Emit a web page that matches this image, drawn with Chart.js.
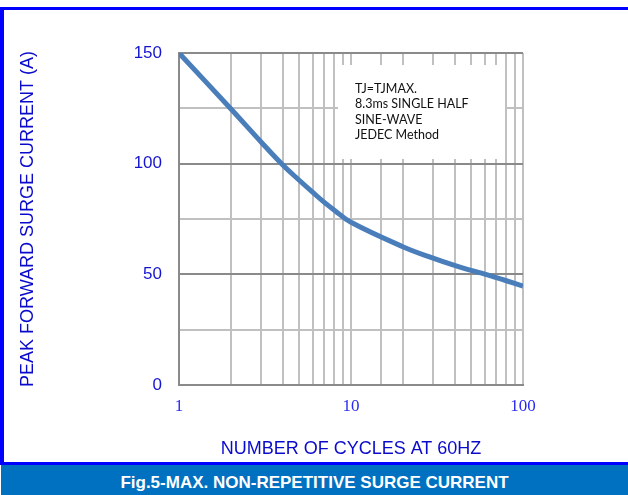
<!DOCTYPE html>
<html>
<head>
<meta charset="utf-8">
<script src="https://cdn.jsdelivr.net/npm/chart.js@4/dist/chart.umd.min.js"></script>
<style>
    html, body { margin: 0; padding: 0; background: #fff; }
    #wrap { position: relative; width: 628px; height: 495px; overflow: hidden; }
    #frame {
        position: absolute; left: 0; top: 7px; width: 628px; height: 458px;
        box-sizing: border-box;
        border-top: 3px solid #0000ff;
        border-left: 4px solid #0000ff;
        border-bottom: 3px solid #0000ff;
    }
    #surge { position: absolute; left: 0; top: 0; }
    #caption {
        position: absolute; left: 1px; top: 465px; width: 627px; height: 30px;
        background: #0070c0; color: #fff;
        font: bold 17px "Liberation Sans", Arial, sans-serif;
        text-align: center; line-height: 36px;
    }
</style>
</head>
<body>
<div id="wrap">
    <div id="frame"></div>
    <canvas id="surge" width="628" height="462"></canvas>
    <div id="caption">Fig.5-MAX. NON-REPETITIVE SURGE CURRENT</div>
</div>
<script>
// ===== DATA =====
const cycles  = [1,   2,     3,     4,    5,    6,  7,    8,  10,   20,   30,   40, 50,   60,   70,   80,   100];
const current = [150, 124.8, 109.8, 99.5, 92.5, 87, 82.5, 79, 73.5, 62.5, 57.3, 54, 51.8, 50.1, 48.5, 47.1, 44.7];
const xLabels = [1, 10, 100];
const yLabels = [0, 50, 100, 150];
const noteLines = ["TJ=TJMAX.", "8.3ms SINGLE HALF", "SINE-WAVE", "JEDEC Method"];

const darkGrid = "#8a8a8a";
const lightGrid = "#c0c0c0";

// white note box over the grid, top right
const notePlugin = {
    id: "note",
    beforeDatasetsDraw(chart) {
        const { ctx, chartArea } = chart;
        const bx = chartArea.left + 159;
        const by = chartArea.top + 12;
        ctx.save();
        ctx.fillStyle = "#fff";
        ctx.fillRect(bx, by, 167, 94);
        ctx.fillStyle = "#111";
        ctx.font = "12.5px Lato, 'Open Sans', sans-serif";
        ctx.textAlign = "left";
        ctx.textBaseline = "middle";
        noteLines.forEach((t, i) => {
            ctx.fillText(t, bx + 17, by + 23.5 + i * 15.6);
        });
        ctx.restore();
    }
};

new Chart(document.getElementById("surge"), {
    type: "line",
    data: {
        datasets: [{
            data: cycles.map((c, i) => ({ x: c, y: current[i] })),
            borderColor: "#4a7ebb",
            borderWidth: 5,
            pointRadius: 0,
            tension: 0.4,
            fill: false
        }]
    },
    options: {
        responsive: false,
        animation: false,
        devicePixelRatio: 1,
        layout: { padding: { left: 0, top: 53, right: 105, bottom: 0 } },
        plugins: { legend: { display: false }, tooltip: { enabled: false } },
        scales: {
            x: {
                type: "logarithmic",
                min: 1,
                max: 100,
                afterFit: s => { s.height = 77; },
                grid: { color: lightGrid, lineWidth: 2, drawTicks: false },
                border: { color: darkGrid, width: 2 },
                ticks: {
                    autoSkip: false,
                    maxRotation: 0,
                    padding: 11,
                    color: "#2a2af0",
                    font: { family: "'Liberation Serif', 'Times New Roman', serif", size: 17 },
                    callback: v => xLabels.includes(v) ? String(v) : ""
                },
                title: {
                    display: true,
                    text: "NUMBER OF CYCLES AT 60HZ",
                    color: "#0a0acc",
                    font: { family: "'Liberation Sans', Arial, sans-serif", size: 18 },
                    padding: { top: 0, bottom: 2 }
                }
            },
            y: {
                min: 0,
                max: 150,
                afterFit: s => { s.width = 179; },
                grid: {
                    lineWidth: 2,
                    drawTicks: false,
                    color: c => c.tick && c.tick.value % 50 === 0 ? darkGrid : lightGrid
                },
                border: { color: darkGrid, width: 2 },
                ticks: {
                    stepSize: 25,
                    padding: 17,
                    color: "#1515d0",
                    font: { family: "'Liberation Sans', Arial, sans-serif", size: 17 },
                    callback: v => yLabels.includes(v) ? String(v) : ""
                },
                title: {
                    display: true,
                    text: "PEAK FORWARD SURGE CURRENT (A)",
                    color: "#0a0acc",
                    font: { family: "'Liberation Sans', Arial, sans-serif", size: 18 },
                    padding: { top: 17, bottom: 0 }
                }
            }
        }
    },
    plugins: [notePlugin]
});
</script>
</body>
</html>
